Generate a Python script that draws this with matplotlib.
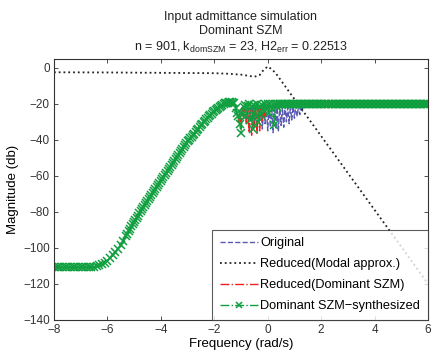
import numpy as np
import matplotlib
matplotlib.use("Agg")
import matplotlib.pyplot as plt

plt.rcParams['font.family'] = ['Liberation Sans', 'DejaVu Sans']
plt.rcParams['mathtext.default'] = 'regular'

# frequency grids (log10 of rad/s)
freq_flat = np.round(np.arange(-8.0, -5.35, 0.1), 2)   # -8.0 .. -5.4
freq_ramp = np.round(np.arange(-5.3, -1.25, 0.05), 2)  # -5.3 .. -1.3
freq_dip = np.round(np.arange(-1.25, 1.41, 0.05), 2)   # -1.25 .. 1.40
freq_hi = np.round(np.arange(1.45, 6.01, 0.05), 2)     # 1.45 .. 6.0

# common low-frequency part (all models overlap here)
flat_db = [-110.8, -110.8, -110.8, -110.8, -110.8, -110.8, -110.8,
           -110.8, -110.8, -110.8, -110.8, -110.8, -110.8, -110.8,
           -110.7, -110.5, -110.2, -109.7, -109.0, -108.1, -107.0,
           -105.7, -104.1, -102.4, -100.5, -98.5, -96.4]
ramp_db = [-93.2, -92.0, -90.7, -89.4, -88.1, -86.9, -85.7, -84.5, -83.3, -82.1,
           -80.8, -79.7, -78.6, -77.5, -76.4, -75.3, -74.2, -73.0, -71.9, -70.8,
           -69.7, -68.6, -67.5, -66.4, -65.2, -64.1, -63.0, -61.9, -60.8, -59.7,
           -58.5, -57.4, -56.3, -55.2, -54.1, -53.0, -51.9, -50.7, -49.6, -48.5,
           -47.4, -46.3, -45.2, -44.1, -42.9, -41.9, -40.9, -40.0, -39.1, -38.3,
           -37.5, -36.6, -35.6, -34.7, -33.8, -32.9, -32.0, -31.1, -30.2, -29.4,
           -28.6, -27.8, -27.0, -26.2, -25.5, -24.8, -24.1, -23.4, -22.8, -22.2,
           -21.6, -21.1, -20.6, -20.2, -19.8, -19.5, -19.3, -19.2, -19.1, -19.1,
           -19.3]

# resonance region
orig_dip = [-19.8, -22, -25, -29, -24, -33, -22, -27, -21, -30, -22, -34, -22, -30, -21, -32,
            -22, -33, -21, -29, -22, -34, -21, -31, -22, -35, -21, -33, -22, -36, -21, -34,
            -22, -35, -21, -32, -22, -33, -21, -30, -22, -31, -21, -29, -21.5, -28, -21, -27,
            -21, -26, -20.5, -24, -20.2, -20.0]
red_dip = [-19.8, -22, -25, -30, -24, -34, -22, -28, -21, -31, -23, -36, -22, -38, -24, -33,
           -21, -37, -23, -35, -22, -30, -21, -27, -20.5, -24, -20.3, -22, -20.1, -20.0,
           -20, -20, -20, -20, -20, -20, -20, -20, -20, -20, -20, -20, -20, -20, -20, -20,
           -20, -20, -20, -20, -20, -20, -20, -20]
syn_dip = [-19.8, -22.5, -25, -27, -31, -36, -26, -22, -20.5, -27, -21, -20.3, -29, -21, -34, -20.5,
           -27, -20.3, -30, -21, -26, -20.4, -24, -20.2, -22, -20.2, -25, -20.1, -23, -20.0,
           -32, -20.1, -22, -20.0, -20, -20, -20, -20, -20, -20, -20, -20, -20, -20, -20, -20,
           -20, -20, -20, -20, -20, -20, -20, -20]
hi_level = -20.0

# modal approximation
modal_freq = [-8, -6, -4, -2, -1.5, -1.0, -0.7, -0.5, -0.3, -0.2, -0.1, 0.0, 0.1, 0.2, 0.3,
              0.5, 1.0, 2.0, 3.0, 4.0, 5.0, 6.0]
modal_db = [-2.5, -2.6, -2.8, -3.0, -3.3, -3.8, -4.5, -5.0, -4.0, -2.0, -0.5, 0.7, -0.3, -1.5, -3.0,
            -7.1, -17.4, -37.9, -58.4, -78.9, -99.4, -119.9]

freq = np.concatenate([freq_flat, freq_ramp, freq_dip, freq_hi])
lo_db = flat_db + ramp_db
hi_db = [hi_level] * len(freq_hi)
orig_db = np.concatenate([lo_db, orig_dip, hi_db])
red_db = np.concatenate([lo_db, red_dip, hi_db])
syn_db = np.concatenate([lo_db, syn_dip, hi_db])

fig = plt.figure(figsize=(4.35, 3.53), dpi=100)
ax = fig.add_axes([0.124, 0.0935, 0.86, 0.74])

ax.plot(freq, orig_db, '--', color='#5a5ab4', lw=1.0, label='Original')
ax.plot(modal_freq, modal_db, ':', color='#222222', lw=1.3, label='Reduced(Modal approx.)')
ax.plot(freq, red_db, '-.', color='#ee2020', lw=1.0, label='Reduced(Dominant SZM)')
ax.plot(freq, syn_db, '-.', color='#10a040', lw=1.0, marker='x', ms=5.5, mew=1.1,
        label='Dominant SZM\u2212synthesized')

ax.set_xlim(-8, 6)
ax.set_ylim(-140, 5)
ax.set_xticks(np.arange(-8, 7, 2))
ax.set_yticks(np.arange(-140, 1, 20))
ax.set_xticklabels(['\u22128', '\u22126', '\u22124', '\u22122', '0', '2', '4', '6'])
ax.set_yticklabels(['\u2212140', '\u2212120', '\u2212100', '\u221280', '\u221260', '\u221240', '\u221220', '0'])
ax.tick_params(direction='in', top=True, right=True, labelsize=8.5, length=3, width=0.6,
               colors='#333333', pad=3)
for s in ax.spines.values():
    s.set_linewidth(0.8)
    s.set_color('#333333')

ax.set_xlabel('Frequency (rad/s)', fontsize=9.5, labelpad=1)
ax.set_ylabel('Magnitude (db)', fontsize=9.5, labelpad=3)
ax.set_title('Input admittance simulation\nDominant SZM\n'
             'n = 901, k$_{domSZM}$ = 23, H2$_{err}$ = 0.22513',
             fontsize=9, linespacing=1.2, pad=6, color='#222222')

leg = ax.legend(loc='lower right', fontsize=9.2, borderaxespad=0, fancybox=False,
                handlelength=3.0, handletextpad=0.2, labelspacing=0.7, borderpad=0.6,
                numpoints=1, markerscale=0.8)
leg.get_frame().set_edgecolor('#333333')
leg.get_frame().set_linewidth(0.8)

fig.savefig('out.png', dpi=100)
